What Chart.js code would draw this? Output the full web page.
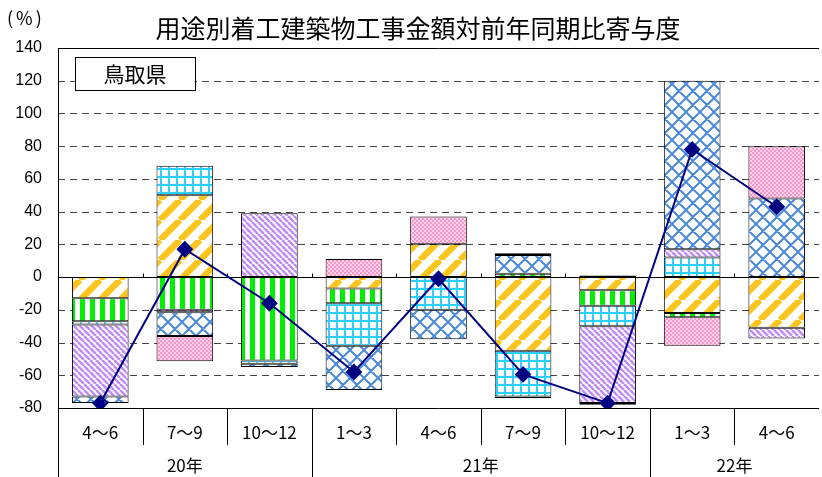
<!DOCTYPE html>
<html>
<head>
<meta charset="utf-8">
<script src="https://cdn.jsdelivr.net/npm/chart.js@4/dist/chart.umd.min.js"></script>
<style>
  html, body { margin: 0; padding: 0; background: #fff; overflow: hidden; }
  #wrap { width: 828px; height: 477px; }
</style>
</head>
<body>
<div id="wrap"><canvas id="chart" width="828" height="477"></canvas></div>
<script>
// データ
const quarters = ['4～6', '7～9', '10～12', '1～3', '4～6', '7～9', '10～12', '1～3', '4～6'];
const years = ['20年', '21年', '22年'];
const yearSpans = [3, 4, 2];
const yTicks = [140, 120, 100, 80, 60, 40, 20, 0, -20, -40, -60, -80];

const seriesA = [-13, 50, null, -7, 20, -45, -8, -22, -31];      // 黄斜線
const seriesB = [-14, -20, -51, -9, null, 2, -9.5, -2.5, null];  // 緑縦線
const seriesC = [-2, 18, -2, -26, -20, -28, -12.5, 12, null];    // 水色格子
const seriesD = [-44, -1.5, 39, null, null, -1, -47, 5, -6.5];   // 紫斜線
const seriesE = [-4, -14.5, -2, -27, -18, 11.5, -1, 103, 48];    // 青菱形
const seriesF = [null, -15.5, null, 11, 17, 1, 1, -17.5, 32];    // 桃色
const totals = [-77, 17, -16, -58, -1, -59.5, -77, 78, 43];      // 合計

const canvas = document.getElementById('chart');
const ctx = canvas.getContext('2d');

function makePattern(size, draw) {
  const c = document.createElement('canvas');
  c.width = size; c.height = size;
  const g = c.getContext('2d');
  g.fillStyle = '#fff';
  g.fillRect(0, 0, size, size);
  draw(g, size);
  return ctx.createPattern(c, 'repeat');
}

const patOrange = makePattern(20, (g, s) => {
  g.strokeStyle = '#fcc51e'; g.lineWidth = 6.5;
  g.beginPath();
  for (const k of [-1, 0, 1]) { g.moveTo(k * s, s); g.lineTo(k * s + s, 0); }
  g.stroke();
});
const patGreen = makePattern(10, (g, s) => {
  g.fillStyle = '#00ee00'; g.fillRect(0, 0, 5, s);
});
const patCyan = makePattern(8, (g, s) => {
  g.fillStyle = '#2ccfff'; g.fillRect(0, 0, 2, s); g.fillRect(0, 0, s, 2);
});
const patPurple = makePattern(6, (g, s) => {
  g.strokeStyle = '#c08ef4'; g.lineWidth = 2.6;
  g.beginPath();
  for (const k of [-1, 0, 1]) { g.moveTo(k * s, 0); g.lineTo(k * s + s, s); }
  g.stroke();
});
const patLattice = makePattern(14, (g, s) => {
  g.strokeStyle = '#4a89d8'; g.lineWidth = 2;
  g.beginPath();
  for (const k of [-1, 0, 1]) {
    g.moveTo(k * s, 0); g.lineTo(k * s + s, s);
    g.moveTo(k * s, s); g.lineTo(k * s + s, 0);
  }
  g.stroke();
});
const patPink = makePattern(4, (g, s) => {
  g.fillStyle = '#ffd4ea'; g.fillRect(0, 0, s, s);
  g.fillStyle = '#ff94c9'; g.fillRect(0, 0, 2, 2); g.fillRect(2, 2, 2, 2);
});

function barSet(label, data, fill) {
  return {
    type: 'bar', label, data, backgroundColor: fill,
    borderColor: '#000', borderWidth: 1, borderSkipped: false,
    stack: 'bars', order: 1, barPercentage: 0.67, categoryPercentage: 1
  };
}

const FONT = "'Noto Sans CJK JP', 'Noto Sans', sans-serif";

const decorPlugin = {
  id: 'decor',
  beforeDatasetsDraw(chart) {
    const { ctx, chartArea: a, scales: { x, y } } = chart;
    ctx.save();
    ctx.strokeStyle = '#444';
    ctx.lineWidth = 1;
    ctx.setLineDash([7, 5]);
    yTicks.forEach(v => {
      if (v === 0 || v === 140 || v === -80) return;
      const py = Math.round(y.getPixelForValue(v)) + 0.5;
      ctx.beginPath(); ctx.moveTo(a.left, py); ctx.lineTo(a.right, py); ctx.stroke();
    });
    ctx.setLineDash([]);
    ctx.strokeStyle = '#000';
    // 枠線・ゼロ線
    [140, 0, -80].forEach(v => {
      const py = Math.round(y.getPixelForValue(v)) + 0.5;
      ctx.beginPath(); ctx.moveTo(a.left, py); ctx.lineTo(a.right, py); ctx.stroke();
    });
    const y0 = Math.round(y.getPixelForValue(0)) + 0.5;
    const w = (a.right - a.left) / quarters.length;
    for (let i = 1; i < quarters.length; i++) {
      const px = Math.round(a.left + w * i) + 0.5;
      ctx.beginPath(); ctx.moveTo(px, y0 - 4); ctx.lineTo(px, y0); ctx.stroke();
    }
    ctx.restore();
  },
  afterDraw(chart) {
    const { ctx, chartArea: a } = chart;
    const H = chart.height;
    const w = (a.right - a.left) / quarters.length;
    ctx.save();
    ctx.strokeStyle = '#000';
    ctx.lineWidth = 1;
    // 左の枠線
    const lx = Math.round(a.left) + 0.5;
    ctx.beginPath(); ctx.moveTo(lx, a.top); ctx.lineTo(lx, H); ctx.stroke();

    // 区切り線
    const yearEdges = [];
    let acc = 0;
    yearSpans.forEach(n => { acc += n; yearEdges.push(acc); });
    for (let i = 1; i < quarters.length; i++) {
      const px = Math.round(a.left + w * i) + 0.5;
      const bottom = yearEdges.includes(i) ? H : a.bottom + 37;
      ctx.beginPath(); ctx.moveTo(px, a.bottom); ctx.lineTo(px, bottom); ctx.stroke();
    }

    ctx.fillStyle = '#000';
    ctx.textAlign = 'center';
    ctx.textBaseline = 'middle';
    ctx.font = '17px ' + FONT;
    quarters.forEach((q, i) => ctx.fillText(q, a.left + w * (i + 0.5), a.bottom + 25));
    let start = 0;
    years.forEach((yr, i) => {
      const cx = a.left + w * (start + yearSpans[i] / 2);
      ctx.fillText(yr, cx, a.bottom + 58);
      start += yearSpans[i];
    });

    // タイトル
    ctx.font = '25px ' + FONT;
    ctx.fillText('用途別着工建築物工事金額対前年同期比寄与度', 418, 28);

    // 単位
    ctx.font = '18px ' + FONT;
    ctx.textAlign = 'left';
    ctx.letterSpacing = '3px';
    ctx.fillText('(%)', 7, 18);
    ctx.letterSpacing = '0px';

    // 県名ボックス
    ctx.fillStyle = '#fff';
    ctx.fillRect(75, 57, 120, 33);
    ctx.strokeRect(75.5, 57.5, 120, 33);
    ctx.fillStyle = '#000';
    ctx.textAlign = 'center';
    ctx.font = '21px ' + FONT;
    ctx.fillText('鳥取県', 135, 74);
    ctx.restore();
  }
};

new Chart(ctx, {
  data: {
    labels: quarters,
    datasets: [
      {
        type: 'line', label: '合計', data: totals, stack: 'total', order: 0,
        borderColor: '#000080', borderWidth: 2, pointStyle: 'rectRot',
        pointRadius: 7, pointBackgroundColor: '#000080', pointBorderColor: '#000080',
        tension: 0
      },
      barSet('A', seriesA, patOrange),
      barSet('B', seriesB, patGreen),
      barSet('C', seriesC, patCyan),
      barSet('D', seriesD, patPurple),
      barSet('E', seriesE, patLattice),
      barSet('F', seriesF, patPink)
    ]
  },
  options: {
    responsive: false,
    animation: false,
    layout: { padding: { top: 48, bottom: 69, left: 0, right: 0 } },
    plugins: { legend: { display: false }, tooltip: { enabled: false }, title: { display: false } },
    scales: {
      x: { stacked: true, display: false, offset: true },
      y: {
        stacked: true, min: -80, max: 140,
        afterFit(scale) { scale.width = 58; },
        afterBuildTicks(scale) { scale.ticks = yTicks.map(v => ({ value: v })); },
        grid: { display: false, drawTicks: false },
        border: { display: false },
        ticks: { padding: 16, color: '#000', font: { family: 'Liberation Sans', size: 16 } }
      }
    }
  },
  plugins: [decorPlugin]
});
</script>
</body>
</html>
